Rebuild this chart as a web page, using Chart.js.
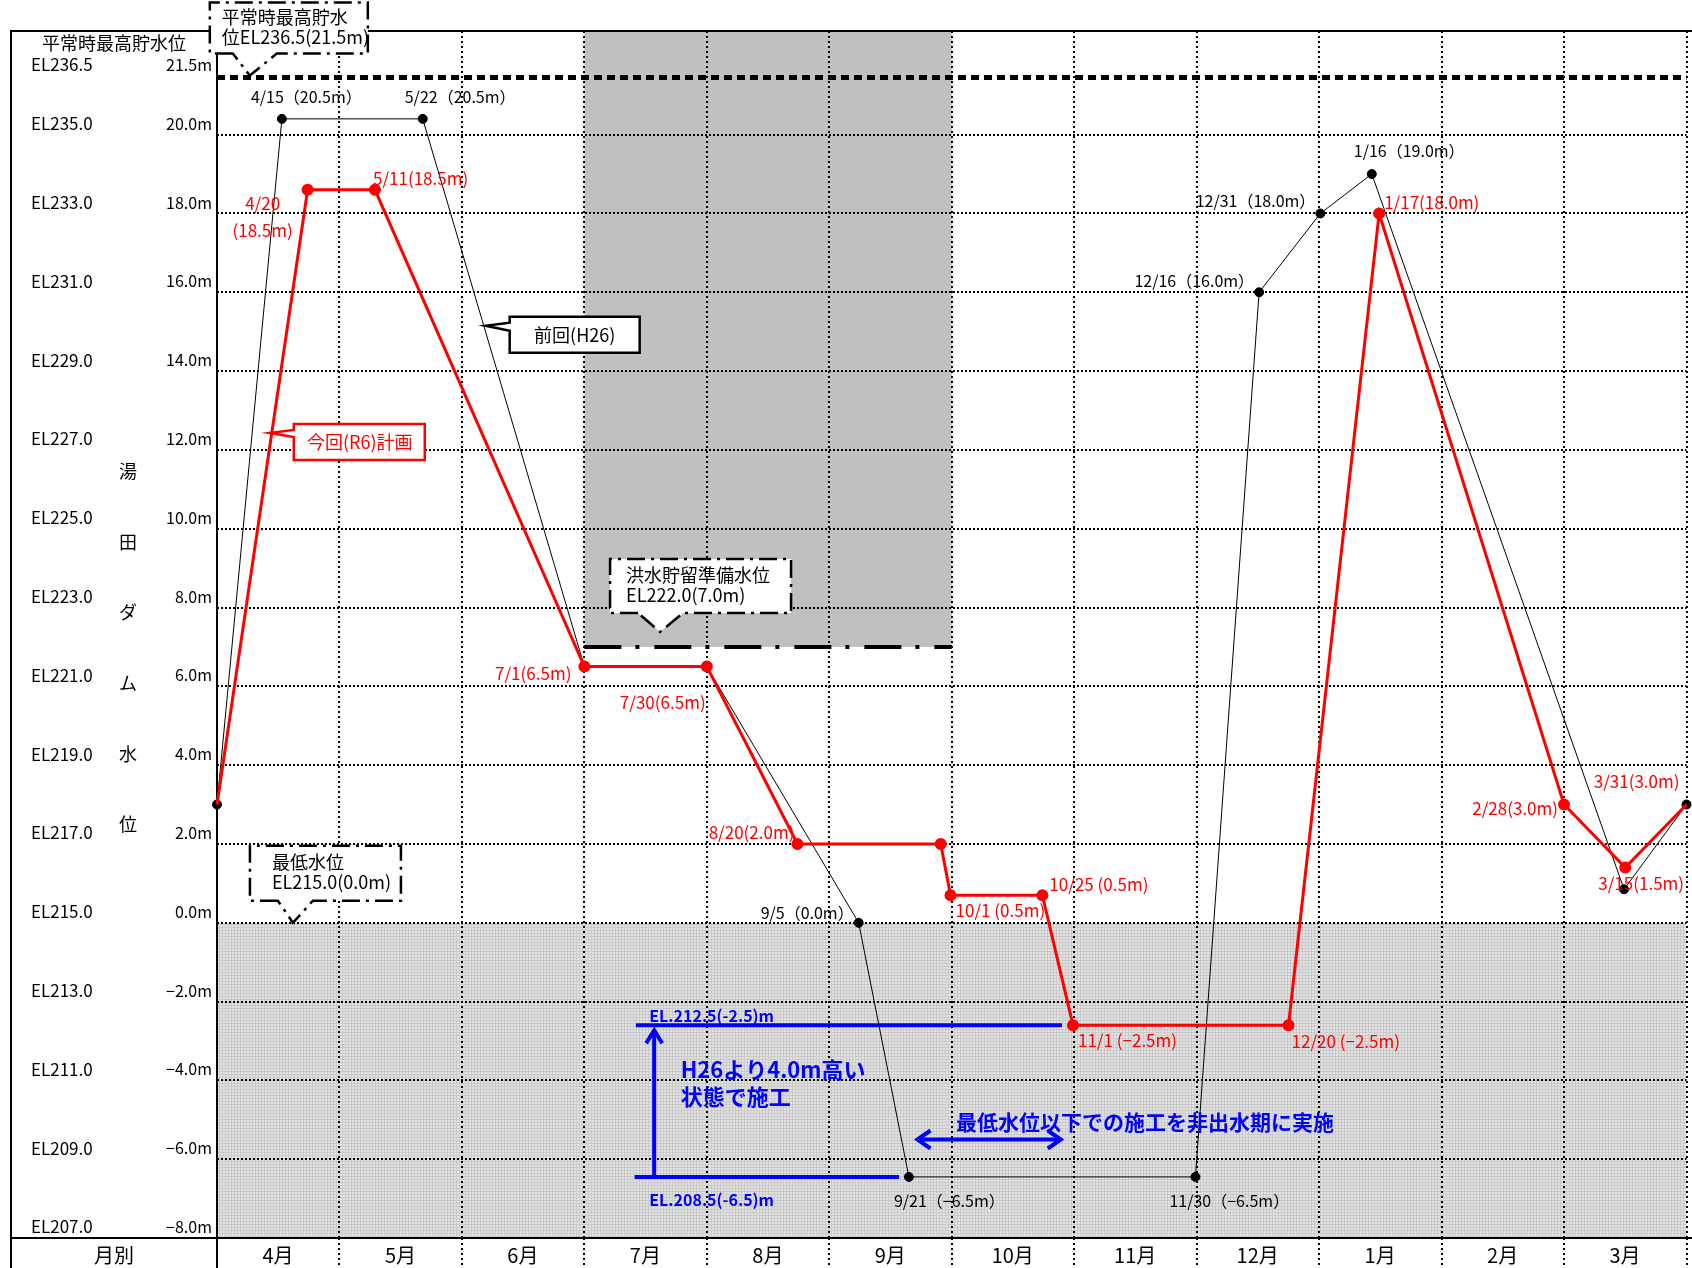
<!DOCTYPE html>
<html lang="ja">
<head>
<meta charset="utf-8">
<title>湯田ダム水位計画</title>
<script src="https://cdn.jsdelivr.net/npm/chart.js@4.4.1/dist/chart.umd.min.js"></script>
<style>
  html, body { margin: 0; padding: 0; background: #fff; }
  canvas { display: block; }
</style>
</head>
<body>
<canvas id="damChart" width="1692" height="1268"></canvas>
<script>
// x axis: position in months from 4/1 (0) to 3/31 (12)
const monthLabels = ['4月', '5月', '6月', '7月', '8月', '9月', '10月', '11月', '12月', '1月', '2月', '3月'];
const monthTicks = [0, 1, 2, 3, 4, 5, 6, 7, 8, 9, 10, 11, 12];
const levelTicks = [-8, -6, -4, -2, 0, 2, 4, 6, 8, 10, 12, 14, 16, 18, 20, 21.5];

// 今回(R6)計画
const planPos = [0, 0.74, 1.29, 3.0, 4.0, 4.74, 5.91, 5.99, 6.74, 6.99, 8.75, 9.49, 11.0, 11.5, 12];
const planLevel = [3.0, 18.6, 18.6, 6.5, 6.5, 2.0, 2.0, 0.7, 0.7, -2.6, -2.6, 18.0, 3.0, 1.4, 3.0];
const planLabels = ['', '4/20\n(18.5m)', '5/11(18.5m)', '7/1(6.5m)', '7/30(6.5m)', '8/20(2.0m)', '',
  '10/1 (0.5m)', '10/25 (0.5m)', '11/1 (−2.5m)', '12/20 (−2.5m)', '1/17(18.0m)', '2/28(3.0m)', '3/15(1.5m)', '3/31(3.0m)'];

// 前回(H26)
const prevPos = [0, 0.53, 1.68, 3.0, 4.0, 5.24, 5.65, 7.99, 8.51, 9.01, 9.43, 11.49, 12];
const prevLevel = [3.0, 20.4, 20.4, 6.5, 6.5, 0.0, -6.45, -6.45, 16.0, 18.0, 19.0, 0.85, 3.0];
const prevLabels = ['', '4/15（20.5m）', '5/22（20.5m）', '', '', '9/5（0.0m）', '9/21（−6.5m）', '11/30（−6.5m）',
  '12/16（16.0m）', '12/31（18.0m）', '1/16（19.0m）', '', ''];

// reference levels (m above 最低水位)
const elBase = 215.0;
const normalHighLevel = 21.5;   // 平常時最高貯水位
const floodStandbyLevel = 7.0;  // 洪水貯留準備水位
const minLevel = 0.0;           // 最低水位
const floodSeason = [3, 6];     // 7/1 - 9/30
const r6WorkLevel = -2.6;
const h26WorkLevel = -6.45;
const yMax = 22.63;

// label placement relative to each point: [dx, dy, align]
const planLabelPlace = [null, [-45, 14, 'center'], [-2, -11, 'left'], [-13, 7, 'right'], [-87, 36, 'left'],
  [-3, -11, 'right'], null, [5, 15, 'left'], [7, -11, 'left'], [5, 15, 'left'], [3, 16, 'left'],
  [5, -11, 'left'], [-6, 4, 'right'], [-27, 16, 'left'], [-7, -23, 'right']];
const prevLabelPlace = [null, [-31, -22, 'left'], [-18, -22, 'left'], null, null, [-5, -10, 'right'],
  [-15, 24, 'left'], [-26, 24, 'left'], [-5, -11, 'right'], [-5, -13, 'right'], [-18, -23, 'left'], null, null];

// callouts: tip in data space, box/base/text offsets in px from the tip
const callouts = [
  { tip: [0.268, 21.5], side: 'bottom', box: [-40, 118, -73, -22], base: [-17, 27], color: '#000', dash: [18, 6, 3, 6],
    lines: ['平常時最高貯水', '位EL236.5(21.5m)'], textX: -28, textY: [-58, -38], align: 'left' },
  { tip: [2.194, 15.15], side: 'left', box: [24, 154, -9, 27], base: [-3, 5], color: '#000', dash: [],
    lines: ['前回(H26)'], textX: 89, textY: [9], align: 'center' },
  { tip: [0.431, 12.43], side: 'left', box: [24, 155, -9, 27], base: [-3, 4], color: '#ff0000', dash: [],
    lines: ['今回(R6)計画'], textX: 90, textY: [9], align: 'center' },
  { tip: [3.618, 7.38], side: 'bottom', box: [-50, 131, -73, -19], base: [-22, 23], color: '#000', dash: [18, 6, 3, 6],
    lines: ['洪水貯留準備水位', 'EL222.0(7.0m)'], textX: -34, textY: [-57, -37], align: 'left' },
  { tip: [0.62, 0.0], side: 'bottom', box: [-43, 108, -77, -22], base: [-15, 20], color: '#000', dash: [18, 6, 3, 6],
    lines: ['最低水位', 'EL215.0(0.0m)'], textX: -21, textY: [-61, -41], align: 'left' }
];

const blueTexts = [
  { at: [3.53, -2.37], text: 'EL.212.5(-2.5)m', size: 16 },
  { at: [3.53, -7.04], text: 'EL.208.5(-6.5)m', size: 16 },
  { at: [3.786, -3.74], text: 'H26より4.0m高い', size: 22 },
  { at: [3.786, -4.42], text: '状態で施工', size: 22 },
  { at: [6.034, -5.05], text: '最低水位以下での施工を非出水期に実施', size: 21 }
];

const FONT = '"Noto Sans CJK JP", sans-serif';
const frameLeft = 11;
Chart.defaults.font.family = FONT;

function xPx(chart, m) { return chart.scales.x.getPixelForValue(m); }
function yPx(chart, v) { return chart.scales.y.getPixelForValue(v); }

// Function to build the fine grey pattern used below 最低水位
function makeHatch(c) {
  const tile = document.createElement('canvas');
  tile.width = 3;
  tile.height = 3;
  const g = tile.getContext('2d');
  g.fillStyle = '#e3e3e3';
  g.fillRect(0, 0, 3, 3);
  g.fillStyle = '#cacaca';
  g.fillRect(0, 0, 3, 1);
  g.fillRect(0, 0, 1, 3);
  return c.createPattern(tile, 'repeat');
}

function line(c, x1, y1, x2, y2) {
  c.beginPath();
  c.moveTo(x1, y1);
  c.lineTo(x2, y2);
  c.stroke();
}

// Function to draw a box with a pointer
function drawCallout(chart, note) {
  const c = chart.ctx;
  const tx = xPx(chart, note.tip[0]), ty = yPx(chart, note.tip[1]);
  const L = tx + note.box[0], R = tx + note.box[1], T = ty + note.box[2], B = ty + note.box[3];
  c.save();
  c.beginPath();
  if (note.side === 'bottom') {
    c.moveTo(tx + note.base[0], B);
    c.lineTo(L, B); c.lineTo(L, T); c.lineTo(R, T); c.lineTo(R, B);
    c.lineTo(tx + note.base[1], B);
  } else {
    c.moveTo(L, ty + note.base[0]);
    c.lineTo(L, T); c.lineTo(R, T); c.lineTo(R, B); c.lineTo(L, B);
    c.lineTo(L, ty + note.base[1]);
  }
  c.lineTo(tx, ty);
  c.closePath();
  c.fillStyle = '#fff';
  c.fill();
  c.setLineDash(note.dash);
  c.lineWidth = 2.5;
  c.strokeStyle = note.color;
  c.stroke();
  c.fillStyle = note.color;
  c.font = '18px ' + FONT;
  c.textAlign = note.align;
  c.textBaseline = 'middle';
  note.lines.forEach((t, i) => c.fillText(t, tx + note.textX, ty + note.textY[i]));
  c.restore();
}

function drawPointLabels(chart, pos, level, labels, place, color, size) {
  const c = chart.ctx;
  c.save();
  c.fillStyle = color;
  c.font = size + 'px ' + FONT;
  c.textBaseline = 'middle';
  labels.forEach((t, i) => {
    if (!t) return;
    const [dx, dy, align] = place[i];
    c.textAlign = align;
    t.split('\n').forEach((part, k) => {
      c.fillText(part, xPx(chart, pos[i]) + dx, yPx(chart, level[i]) + dy + k * 27);
    });
  });
  c.restore();
}

const backgroundPlugin = {
  id: 'background',
  beforeDraw(chart) {
    const c = chart.ctx, area = chart.chartArea;
    c.save();
    c.fillStyle = '#fff';
    c.fillRect(0, 0, chart.width, chart.height);
    // below 最低水位
    const y0 = yPx(chart, minLevel);
    c.fillStyle = makeHatch(c);
    c.fillRect(area.left, y0, area.right - area.left, area.bottom - y0);
    // flood season above 洪水貯留準備水位
    const fx1 = xPx(chart, floodSeason[0]), fx2 = xPx(chart, floodSeason[1]);
    c.fillStyle = '#c0c0c0';
    c.fillRect(fx1, area.top, fx2 - fx1, yPx(chart, floodStandbyLevel) - area.top);
    c.restore();
  }
};

const referencePlugin = {
  id: 'reference',
  beforeDatasetsDraw(chart) {
    const c = chart.ctx, area = chart.chartArea;
    c.save();
    // table frame
    c.strokeStyle = '#000';
    c.lineWidth = 2;
    c.beginPath();
    c.moveTo(frameLeft, chart.height);
    c.lineTo(frameLeft, area.top);
    c.lineTo(chart.width, area.top);
    c.moveTo(frameLeft, area.bottom);
    c.lineTo(chart.width, area.bottom);
    c.moveTo(area.left, area.top);
    c.lineTo(area.left, chart.height);
    c.stroke();

    // 平常時最高貯水位
    const yh = yPx(chart, normalHighLevel);
    c.lineWidth = 5;
    c.setLineDash([8, 5]);
    line(c, area.left, yh + 2, area.right, yh + 2);

    // 洪水貯留準備水位
    c.lineWidth = 4;
    c.setLineDash([37, 14, 4, 15]);
    const ys = yPx(chart, floodStandbyLevel);
    line(c, xPx(chart, floodSeason[0]), ys, xPx(chart, floodSeason[1]), ys);

    // blue construction notes
    c.setLineDash([]);
    c.strokeStyle = '#0000ff';
    c.lineWidth = 4;
    const yTop = yPx(chart, r6WorkLevel), yBot = yPx(chart, h26WorkLevel);
    line(c, xPx(chart, 3.42), yTop, xPx(chart, 6.9), yTop);
    line(c, xPx(chart, 3.41), yBot, xPx(chart, 5.57), yBot);
    const ax = xPx(chart, 3.57);
    line(c, ax, yBot, ax, yTop + 5);
    c.beginPath();
    c.moveTo(ax - 8, yTop + 18); c.lineTo(ax, yTop + 5); c.lineTo(ax + 8, yTop + 18);
    c.stroke();
    const yd = yPx(chart, -5.5), dx1 = xPx(chart, 5.72), dx2 = xPx(chart, 6.89);
    line(c, dx1, yd, dx2, yd);
    c.beginPath();
    c.moveTo(dx1 + 13, yd - 9); c.lineTo(dx1, yd); c.lineTo(dx1 + 13, yd + 9);
    c.moveTo(dx2 - 13, yd - 9); c.lineTo(dx2, yd); c.lineTo(dx2 - 13, yd + 9);
    c.stroke();
    c.restore();
  }
};

const annotationPlugin = {
  id: 'annotations',
  afterDatasetsDraw(chart) {
    const c = chart.ctx, area = chart.chartArea;
    drawPointLabels(chart, planPos, planLevel, planLabels, planLabelPlace, '#ff0000', 17);
    drawPointLabels(chart, prevPos, prevLevel, prevLabels, prevLabelPlace, '#000', 16);

    c.save();
    c.fillStyle = '#0000ff';
    c.textAlign = 'left';
    c.textBaseline = 'middle';
    blueTexts.forEach(b => {
      c.font = 'bold ' + b.size + 'px ' + FONT;
      c.fillText(b.text, xPx(chart, b.at[0]), yPx(chart, b.at[1]));
    });

    // left column texts
    c.fillStyle = '#000';
    c.textAlign = 'center';
    const colMid = (frameLeft + area.left) / 2;
    c.font = '18px ' + FONT;
    c.fillText('平常時最高貯水位', colMid, area.top + 12);
    const titleX = chart.scales.y.left + 15;
    Array.from('湯田ダム水位').forEach((ch, i) => {
      c.fillText(ch, titleX, yPx(chart, 11.45 - i * 1.79));
    });
    c.font = '20px ' + FONT;
    c.fillText('月別', colMid, area.bottom + 17);
    c.restore();

    callouts.forEach(note => drawCallout(chart, note));
  }
};

const ctx = document.getElementById('damChart').getContext('2d');
const damChart = new Chart(ctx, {
  type: 'line',
  data: {
    datasets: [
      {
        label: '今回(R6)計画',
        data: planPos.map((m, i) => ({ x: m, y: planLevel[i] })),
        borderColor: '#ff0000',
        borderWidth: 3,
        pointBackgroundColor: '#ff0000',
        pointBorderColor: '#ff0000',
        pointRadius: p => (p.dataIndex === 0 || p.dataIndex === planPos.length - 1) ? 0 : 4.5,
        tension: 0,
        clip: false
      },
      {
        label: '前回(H26)',
        data: prevPos.map((m, i) => ({ x: m, y: prevLevel[i] })),
        borderColor: '#000',
        borderWidth: 1,
        pointBackgroundColor: '#000',
        pointBorderColor: '#000',
        pointRadius: 4.5,
        tension: 0,
        clip: false
      }
    ]
  },
  options: {
    responsive: false,
    animation: false,
    devicePixelRatio: 1,
    events: [],
    layout: { padding: { left: 31, top: 31, right: 0, bottom: 0 } },
    plugins: { legend: { display: false }, tooltip: { enabled: false } },
    scales: {
      x: {
        type: 'linear',
        position: 'bottom',
        min: 0,
        max: 12,
        afterBuildTicks: s => { s.ticks = monthTicks.map(v => ({ value: v })); },
        afterFit: s => { s.height = 30; },
        ticks: {
          autoSkip: false,
          maxRotation: 0,
          labelOffset: 61,
          padding: -25,
          color: '#000',
          font: { size: 20 },
          callback: (v, i) => monthLabels[i] || ''
        },
        grid: { color: '#000', lineWidth: 2, drawTicks: true, tickLength: 30, tickColor: '#000', tickWidth: 2, tickBorderDash: [2, 3] },
        border: { display: false, dash: [2, 3] }
      },
      y: {
        type: 'linear',
        position: 'left',
        min: -8,
        max: yMax,
        afterBuildTicks: s => { s.ticks = levelTicks.map(v => ({ value: v })); },
        afterFit: s => { s.width = 104; },
        ticks: {
          padding: 5,
          labelOffset: -11,
          color: '#000',
          font: { size: 16 },
          callback: v => (v < 0 ? '−' : '') + Math.abs(v).toFixed(1) + 'm'
        },
        grid: {
          color: g => (g.tick && g.tick.value === normalHighLevel) ? 'rgba(0,0,0,0)' : '#000',
          lineWidth: 2,
          drawTicks: false
        },
        border: { display: false, dash: [2, 2] }
      },
      yEL: {
        type: 'linear',
        position: 'left',
        weight: 1,
        min: -8,
        max: yMax,
        afterBuildTicks: s => { s.ticks = levelTicks.map(v => ({ value: v })); },
        afterFit: s => { s.width = 82; },
        ticks: {
          crossAlign: 'far',
          labelOffset: -11,
          color: '#000',
          font: { size: 17 },
          callback: v => 'EL' + (elBase + v).toFixed(1)
        },
        grid: { display: false },
        border: { display: false }
      }
    }
  },
  plugins: [backgroundPlugin, referencePlugin, annotationPlugin]
});
</script>
</body>
</html>
